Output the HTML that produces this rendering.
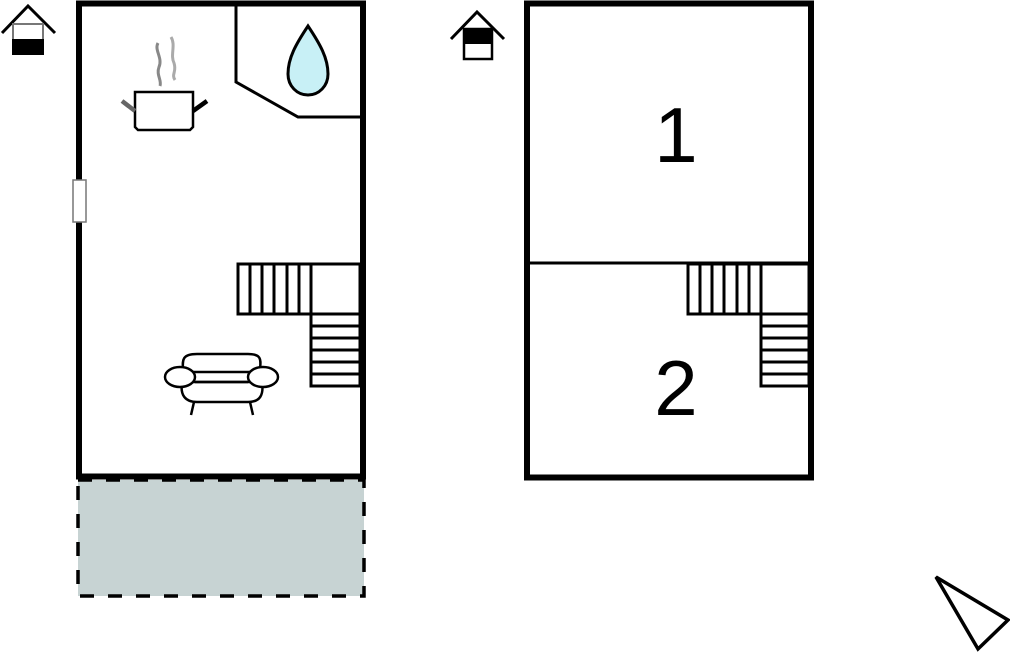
<!DOCTYPE html>
<html><head><meta charset="utf-8"><style>html,body{margin:0;padding:0;background:#fff}svg{display:block}</style></head>
<body>
<svg width="1010" height="652" viewBox="0 0 1010 652" xmlns="http://www.w3.org/2000/svg">
<rect x="0" y="0" width="1010" height="652" fill="#fff"/>
<rect x="78" y="480" width="286" height="116" fill="#c7d3d3" stroke="#000" stroke-width="3.5" stroke-dasharray="14,14"/>
<rect x="79" y="3.5" width="284" height="473" fill="none" stroke="#000" stroke-width="6"/>
<polyline points="236,5 236,82 298,117 361,117" fill="none" stroke="#000" stroke-width="3"/>
<path d="M308,26 C296,44 288,58 288,74 C288,86 297,95 308,95 C319,95 328,86 328,74 C328,58 320,44 308,26 Z" fill="#c8f0f6" stroke="#000" stroke-width="3"/>
<rect x="73" y="180" width="13" height="42" fill="#fff" stroke="#777" stroke-width="1.5"/>
<path d="M158,43 C154,50 163,58 159,67 C156,75 162,80 160,86" fill="none" stroke="#888" stroke-width="3"/>
<path d="M171,37 C176,45 170,55 174,63 C177,72 171,74 175,80" fill="none" stroke="#aaa" stroke-width="3"/>
<path d="M135,92 L193,92 L193,127 L190,130 L138,130 L135,127 Z" fill="#fff" stroke="#000" stroke-width="2.5"/>
<line x1="122" y1="101" x2="135" y2="111" stroke="#666" stroke-width="4.5"/>
<line x1="193" y1="111" x2="207" y2="101" stroke="#000" stroke-width="4.5"/>
<g fill="none" stroke="#000" stroke-width="3">
<rect x="238" y="264" width="122" height="50"/>
<rect x="311" y="314" width="49" height="72"/>
<line x1="250" y1="264" x2="250" y2="314"/><line x1="262" y1="264" x2="262" y2="314"/><line x1="274" y1="264" x2="274" y2="314"/><line x1="287" y1="264" x2="287" y2="314"/><line x1="299" y1="264" x2="299" y2="314"/><line x1="311" y1="264" x2="311" y2="314"/>
<line x1="311" y1="326" x2="360" y2="326"/><line x1="311" y1="338" x2="360" y2="338"/><line x1="311" y1="350" x2="360" y2="350"/><line x1="311" y1="362" x2="360" y2="362"/><line x1="311" y1="374" x2="360" y2="374"/>
</g>
<g fill="#fff" stroke="#000" stroke-width="2.5">
<path d="M183,372 C183,362 180,354 197,354 L248,354 C264,354 260,362 260,372 Z"/>
<path d="M182,382 C180,395 185,402 197,402 L248,402 C260,402 264,395 262,382 Z"/>
<line x1="194" y1="402" x2="191" y2="415"/><line x1="250" y1="402" x2="253" y2="415"/>
<ellipse cx="180" cy="377" rx="15" ry="10"/>
<ellipse cx="263" cy="377" rx="15" ry="10"/>
<line x1="195" y1="382" x2="248" y2="382"/>
</g>
<rect x="527" y="3.5" width="284" height="474" fill="none" stroke="#000" stroke-width="6"/>
<line x1="527" y1="263" x2="811" y2="263" stroke="#000" stroke-width="3"/>
<g fill="none" stroke="#000" stroke-width="3">
<rect x="688" y="264" width="121" height="50"/>
<rect x="761" y="314" width="48" height="72"/>
<line x1="700" y1="264" x2="700" y2="314"/><line x1="712" y1="264" x2="712" y2="314"/><line x1="724" y1="264" x2="724" y2="314"/><line x1="737" y1="264" x2="737" y2="314"/><line x1="749" y1="264" x2="749" y2="314"/><line x1="761" y1="264" x2="761" y2="314"/>
<line x1="761" y1="326" x2="809" y2="326"/><line x1="761" y1="338" x2="809" y2="338"/><line x1="761" y1="350" x2="809" y2="350"/><line x1="761" y1="362" x2="809" y2="362"/><line x1="761" y1="374" x2="809" y2="374"/>
</g>
<text x="676" y="162" font-family="Liberation Sans, sans-serif" font-size="78" text-anchor="middle">1</text>
<text x="676" y="415" font-family="Liberation Sans, sans-serif" font-size="78" text-anchor="middle">2</text>
<g>
<polyline points="2,33 28,6 55,33" fill="none" stroke="#000" stroke-width="3"/>
<rect x="13" y="24" width="30" height="30" fill="#fff" stroke="#777" stroke-width="2"/>
<rect x="12" y="39" width="32" height="16" fill="#000"/>
</g>
<g>
<polyline points="451,39 477,12 504,39" fill="none" stroke="#000" stroke-width="3"/>
<rect x="464" y="29" width="28" height="30" fill="#fff" stroke="#000" stroke-width="2.5"/>
<rect x="463" y="28" width="30" height="16" fill="#000"/>
</g>
<polygon points="936,577 1008,620 978,649" fill="none" stroke="#000" stroke-width="3.5"/>
</svg>
</body></html>
